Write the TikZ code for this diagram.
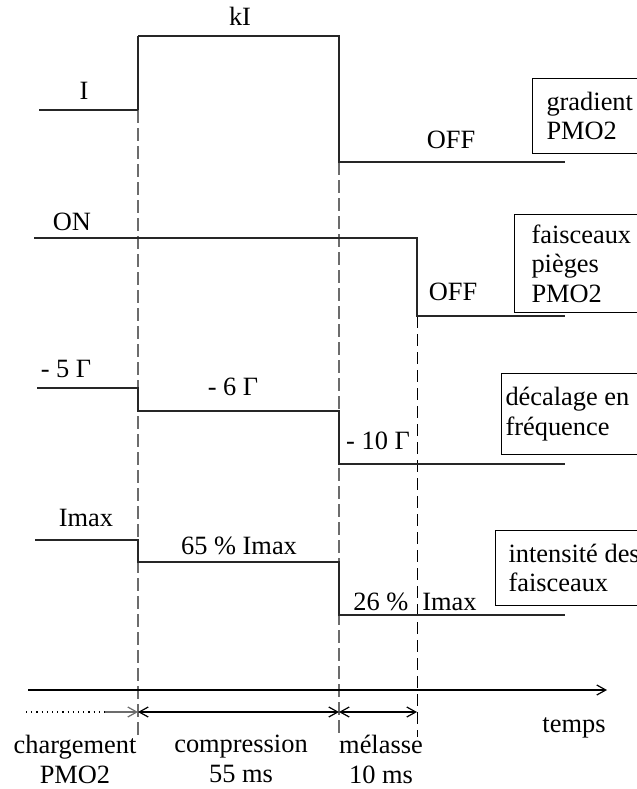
\documentclass[tikz,border=0pt]{standalone}
\usepackage{fontspec}
\setmainfont{Liberation Serif}
\usetikzlibrary{arrows.meta}

\begin{document}
\begin{tikzpicture}[
  x=0.5pt, y=-0.5pt,
  >={Straight Barb[length=4.5pt,width=5pt]},
  lbl/.style    = {font=\fontsize{13.2}{14.75}\selectfont, inner sep=0pt, anchor=base},
  phase/.style  = {font=\fontsize{13.2}{14.75}\selectfont, inner sep=0pt, anchor=north,
                   align=center},
  box/.style    = {draw, line width=0.5pt, anchor=north west, align=flush left,
                   font=\fontsize{13.2}{14.75}\selectfont, inner ysep=0pt},
  sig/.style    = {line width=0.65pt, black!85},
  jump/.style   = {line width=1pt},
  guide/.style  = {dash pattern=on 6.5pt off 2.5pt, line width=0.75pt, gray!85!black},
  guideb/.style = {dash pattern=on 6pt off 3pt, line width=0.5pt},
  arrow/.style  = {->, line width=0.6pt},
  dur/.style    = {<->, line width=0.6pt}
]
\useasboundingbox (0,0) rectangle (637,789);

%% ---- phase boundaries ------------------------------------------------
\coordinate (t1) at (138,737);
\coordinate (t2) at (339,737);
\coordinate (t3) at (417,737);
\draw[guide]  (138,110) -- (t1);
\draw[guide]  (339,162) -- (t2);
\draw[guideb] (417,316) -- (t3);

%% ---- gradient PMO2 -----------------------------------------------------
\draw[sig] (39,110) -- (138,110);
\draw[sig, jump] (138,110) -- (138,36);
\draw[sig] (138,36) -- (339,36) -- (339,162) -- (565,162);
\node[lbl] (gI)   at (84,99)   {I};
\node[lbl] (gkI)  at (240,25)  {kI};
\node[lbl] (gOff) at (451,148) {OFF};
\node[box, inner xsep=7pt, text width=50pt, minimum height=37.5pt] (gradbox)
  at (532,78) {gradient\\PMO2};

%% ---- faisceaux pieges --------------------------------------------------
\draw[sig] (34,238) -- (417,238) -- (417,316) -- (565,316);
\node[lbl] (fOn)  at (72,230)  {ON};
\node[lbl] (fOff) at (453,300) {OFF};
\node[box, inner xsep=8.5pt, text width=56pt, minimum height=49pt] (faisbox)
  at (514,214) {faisceaux\\pièges\\PMO2};

%% ---- decalage en frequence ---------------------------------------------
\draw[sig] (37,388) -- (138,388) -- (138,411) -- (339,411) -- (339,464) -- (565,464);
\node[lbl] (d5)  at (66,377)  {- 5 Γ};
\node[lbl] (d6)  at (233,395) {- 6 Γ};
\node[lbl] (d10) at (378,449) {- 10 Γ};
\node[box, inner xsep=2pt, text width=75pt, minimum height=40.5pt] (decbox)
  at (501,373) {décalage en\\fréquence};

%% ---- intensite des faisceaux -------------------------------------------
\draw[sig] (35,540) -- (138,540) -- (138,562) -- (339,562) -- (339,615) -- (565,615);
\node[lbl] (iMax) at (86,526)  {Imax};
\node[lbl] (i65)  at (239,554) {65 \% Imax};
\node[lbl] (i26)  at (415,610) {26 \% \;Imax};
\node[box, inner xsep=6.5pt, text width=75pt, minimum height=37.5pt] (intbox)
  at (495,530) {intensité des\\faisceaux};

%% ---- time axis and phase durations -------------------------------------
\coordinate (ax0) at (28,690);
\coordinate (ax1) at (607,690);
\draw[arrow] (ax0) -- (ax1);
\node[lbl] (temps) at (574,732) {temps};

\coordinate (c0) at (26,712);
\coordinate (c1) at (105,712);
\coordinate (p1) at (138,712);
\coordinate (p2) at (339,712);
\coordinate (p3) at (417,712);
\draw[dotted, line width=0.6pt] (c0) -- (c1);
\draw[arrow, gray!85!black] (c1) -- (p1);
\draw[dur] (p1) -- (p2);
\draw[dur] (p2) -- (p3);

\node[phase] (charg) at (75,735)  {chargement\\PMO2};
\node[phase] (comp)  at (241,735) {compression\\55 ms};
\node[phase] (mel)   at (381,735) {mélasse\\10 ms};

\end{tikzpicture}
\end{document}
